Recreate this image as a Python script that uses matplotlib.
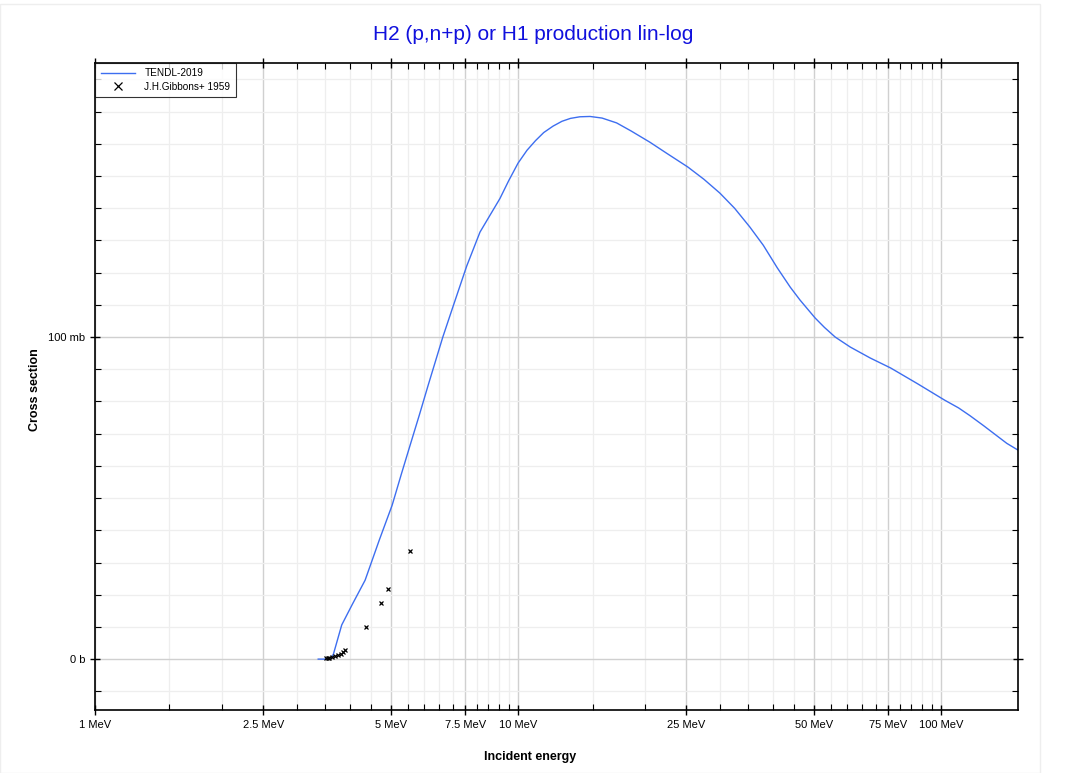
import matplotlib
matplotlib.use("Agg")
import matplotlib.pyplot as plt
from matplotlib.ticker import FixedLocator, NullFormatter, FixedFormatter
from matplotlib.patches import Rectangle

plt.rcParams['font.family'] = ['Liberation Sans', 'DejaVu Sans']

# TENDL-2019 evaluated curve (energy in MeV, cross section in mb)
tendl_e = [3.37, 3.55, 3.62, 3.66, 3.83, 4.05, 4.35, 4.7, 5.04, 5.3, 5.56, 5.85, 6.13, 6.64,
           7.0, 7.56, 8.13, 8.6, 9.06, 9.5, 10.0, 10.5, 11.0, 11.5, 12.1, 12.7, 13.3, 14.0,
           14.8, 15.8, 17.1, 18.5, 20.5, 22.5, 25.2, 27.5, 30.0, 32.5, 35.3, 38.0, 41.0,
           44.0, 46.4, 48.5, 50.4, 53.0, 56.2, 61.0, 68.0, 76.0, 88.0, 102.0, 110.0, 117.0,
           126.0, 135.0, 143.0, 152.0]
tendl_xs = [0.0, 0.0, 0.5, 1.5, 10.6, 16.8, 24.5, 37.0, 47.8, 57.5, 66.5, 76.0, 85.0, 100.0,
            109.0, 122.0, 132.6, 138.0, 143.0, 148.5, 154.0, 158.0, 161.0, 163.5, 165.5,
            167.0, 167.9, 168.4, 168.5, 168.0, 166.5, 164.0, 160.5, 157.0, 152.8, 149.0,
            144.7, 140.0, 134.2, 128.5, 121.5, 115.5, 111.5, 108.5, 105.9, 103.0, 100.0,
            96.9, 93.5, 90.4, 85.5, 80.4, 78.0, 75.6, 72.5, 69.5, 67.0, 64.9]

# J.H.Gibbons+ 1959 experimental points
exp_e = [3.52, 3.55, 3.58, 3.63, 3.69, 3.76, 3.81, 3.86, 3.90, 4.37, 4.74, 4.93, 5.55]
exp_xs = [0.2, 0.3, 0.4, 0.7, 0.9, 1.2, 1.5, 2.1, 2.8, 9.9, 17.4, 21.8, 33.6]

x_major = [1, 2.5, 5, 7.5, 10, 25, 50, 75, 100]
x_major_labels = ['1 MeV', '2.5 MeV', '5 MeV', '7.5 MeV', '10 MeV', '25 MeV', '50 MeV', '75 MeV', '100 MeV']
x_minor = [1.5, 2, 3, 3.5, 4, 4.5, 5.5, 6, 6.5, 7, 8, 8.5, 9, 9.5, 15, 20, 30, 35, 40, 45,
           55, 60, 65, 70, 80, 85, 90, 95]
y_major = [0, 100]
y_major_labels = ['0 b', '100 mb']
y_minor = [-10, 10, 20, 30, 40, 50, 60, 70, 80, 90, 110, 120, 130, 140, 150, 160, 170, 180]

fig = plt.figure(figsize=(10.67, 7.73), dpi=100)
ax = fig.add_axes([95/1067, 1 - 710/773, (1018-95)/1067, (710-63)/773])

ax.set_xscale('log')
ax.set_xlim(1, 152)
ax.set_ylim(-15.8, 185.1)

ax.xaxis.set_major_locator(FixedLocator(x_major))
ax.xaxis.set_major_formatter(FixedFormatter(x_major_labels))
ax.xaxis.set_minor_locator(FixedLocator(x_minor))
ax.xaxis.set_minor_formatter(NullFormatter())
ax.yaxis.set_major_locator(FixedLocator(y_major))
ax.yaxis.set_major_formatter(FixedFormatter(y_major_labels))
ax.yaxis.set_minor_locator(FixedLocator(y_minor))

ax.grid(True, which='major', color='#d0d0d0', linewidth=1.0)
ax.grid(True, which='minor', color='#eeeeee', linewidth=0.9)
ax.set_axisbelow(True)

ax.tick_params(which='major', direction='inout', length=7, width=1, labelsize=8,
               top=True, right=True, color='black')
ax.tick_params(which='minor', direction='in', length=4, width=0.8,
               top=True, right=True, color='black')
for s in ax.spines.values():
    s.set_linewidth(1.2)
    s.set_color('black')

ax.plot(tendl_e, tendl_xs, color='#3d6ef0', linewidth=1.0, label='TENDL-2019')
ax.plot(exp_e, exp_xs, linestyle='none', marker='x', markersize=3.5, markeredgewidth=0.9,
        color='black', label='J.H.Gibbons+ 1959')

leg = ax.legend(loc='upper left', fontsize=7.2, frameon=True, fancybox=False,
                edgecolor='black', borderaxespad=0, handlelength=3.4, handletextpad=1.0,
                borderpad=0.55, labelspacing=0.3)
leg.get_frame().set_linewidth(0.8)
for h in leg.legend_handles:
    h.set_markersize(6)

fig.text(0.5, 1 - 35/773, 'H2 (p,n+p) or H1 production lin-log', color='#1010dd',
         fontsize=15, ha='center', va='center')
fig.text(530/1067, 1 - 757/773, 'Incident energy', fontsize=9, fontweight='bold',
         ha='center', va='center')
fig.text(35/1067, 1 - 390/773, 'Cross section', fontsize=9, fontweight='bold',
         ha='center', va='center', rotation=90)

fig.patches.append(Rectangle((0.0, 0.0), 1040/1067, 1 - 4/773, transform=fig.transFigure,
                             fill=False, edgecolor='#eeeeee', linewidth=1.0))

fig.savefig('out.png', dpi=100)
